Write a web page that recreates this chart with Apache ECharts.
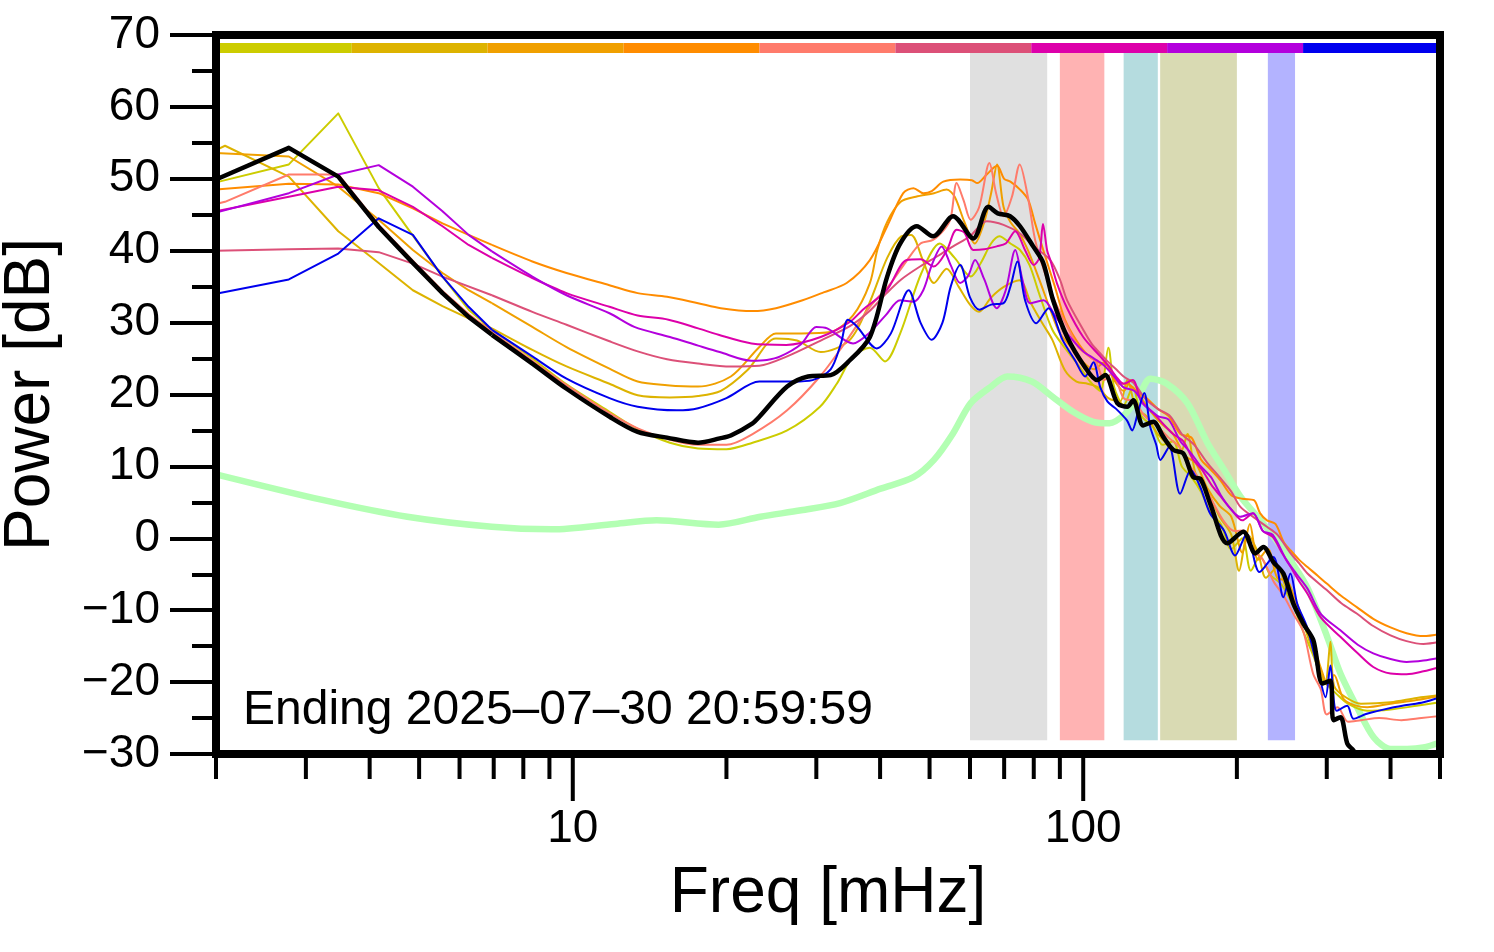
<!DOCTYPE html>
<html>
<head>
<meta charset="utf-8">
<script src="https://cdn.jsdelivr.net/npm/echarts@6/dist/echarts.min.js"></script>
<style>
html,body{margin:0;padding:0;background:#fff;}
#chart{width:1494px;height:952px;}
</style>
</head>
<body>
<div id="chart"></div>
<script>
// ---------------- DATA ----------------
const xMajorTicks = [10, 100];
const xMinorTicks = [2, 3, 4, 5, 6, 7, 8, 9, 20, 30, 40, 50, 60, 70, 80, 90, 200, 300, 400, 500];
const xLabels = [10, 100];
const stampText = 'Ending 2025\u201307\u201330 20:59:59';

// shaded frequency bands [mHz]
const bandStarts = [60, 90, 120, 141.5, 230];
const bandEnds   = [85, 110, 140, 200, 260];
const bandColors = ['#e0e0e0', '#ffb3b3', '#b5dcdf', '#d9dab3', '#b3b3ff'];
const bandLow = -28.1, bandHigh = 67.5;

// colour strip along the top
const stripEdges  = [2, 3.69, 6.81, 12.58, 23.22, 42.86, 79.1, 146, 269.6, 500];
const stripColors = ['#cccc00', '#ddb300', '#f0a000', '#ff8c00', '#ff7b6b', '#dc5078', '#dd00aa', '#b300dd', '#0000ee'];
const stripLow = 67.5, stripHigh = 68.9;

// below this frequency the spectra are drawn as straight segments (coarse bins)
const coarseLimit = 6.95;

// spectra: [freq mHz, power dB]
const s1 = [[2,49.5],[2.778,52.0],[3.472,59.1],[4.167,48.7],[4.861,42.1],[5.556,36.4],[6.25,31.8],[6.944,29.0],[8.333,25.0],[9.722,21.4],[11.8,17.6],[13.4,15.2],[15.5,13.3],[17.6,12.5],[20,12.4],[22.5,13.3],[26.3,15.0],[30.5,18.3],[32.9,21.5],[35.4,25.3],[38.2,26.5],[40.9,24.6],[43.8,28.5],[48.2,36.9],[52.4,41.0],[56,39.0],[60.2,36.4],[63,38.3],[66,41.0],[68.5,42.0],[72,41.0],[75.2,40.1],[78.5,38.0],[82,34.0],[87,29.0],[92,26.5],[98,24.0],[104,21.5],[108,20.5],[112,26.5],[115,21.0],[120,18.5],[125,21.0],[130,17.0],[137,15.5],[143,13.0],[150,13.5],[156,10.0],[163,8.5],[170,6.5],[178,3.5],[186,2.0],[195,-1.5],[205,0.0],[213,-4.5],[222,-2.5],[232,-5.0],[245,-6.5],[258,-9.5],[270,-13.0],[283,-16.5],[293,-19.5],[302,-20.5],[312,-21.5],[330,-23.0],[360,-24.0],[400,-23.8],[450,-23.3],[500,-22.8]];
const s2 = [[2,54.0],[2.083,54.6],[2.778,50.3],[3.472,42.7],[4.167,38.3],[4.861,34.5],[5.556,32.3],[6.25,30.6],[6.944,29.2],[8.333,26.2],[9.722,23.9],[11.8,21.5],[13.4,19.9],[15.5,19.6],[17.6,19.8],[19.5,20.5],[22,23.4],[25,27.8],[27.5,27.5],[30.6,25.9],[34.9,27.6],[38,32.5],[41.3,39.0],[44,42.0],[46,42.2],[48.5,38.7],[51,35.5],[54,37.5],[57,35.0],[60,32.5],[62.5,31.5],[66,33.5],[70,35.0],[75,35.9],[79,32.7],[83,30.0],[87,27.6],[92,23.4],[97,21.8],[102,21.5],[107,21.0],[112,19.5],[118,19.0],[122,22.0],[127,18.0],[133,17.0],[140,14.5],[147,13.0],[155,12.0],[160,14.5],[166,9.0],[175,6.5],[185,3.0],[195,0.5],[202,-4.5],[210,0.5],[220,-2.0],[228,-5.5],[240,-4.0],[250,-7.0],[262,-9.0],[275,-13.5],[288,-17.5],[298,-20.0],[305,-14.4],[310,-20.5],[325,-22.0],[350,-23.0],[400,-22.8],[450,-22.2],[500,-21.8]];
const s3 = [[2,53.6],[2.778,53.1],[3.472,48.9],[4.167,44.3],[4.861,40.1],[5.556,36.9],[6.25,34.5],[6.944,32.7],[8.333,29.4],[9.722,26.6],[11.8,23.6],[13.4,21.8],[15.3,21.3],[17.6,21.1],[20.4,22.5],[23.2,26.6],[25,28.5],[28,28.5],[32,28.7],[35.4,31.0],[38.2,35.5],[39.5,40.1],[41.3,44.0],[43.9,46.8],[47,47.5],[51,48.0],[54,48.5],[56,47.5],[58.5,44.0],[61.3,41.0],[64,44.0],[66,48.0],[67.8,52.0],[69.8,46.1],[72,44.0],[75,42.4],[78,40.0],[82,36.0],[86,32.0],[90,28.5],[95,26.5],[100,24.5],[105,23.5],[110,24.5],[115,22.0],[120,20.5],[124,22.0],[130,19.5],[136,17.5],[142,16.0],[150,14.5],[158,11.5],[166,10.5],[175,7.0],[185,4.5],[195,3.0],[205,-2.0],[212,2.0],[220,-3.0],[230,-1.5],[240,-5.5],[252,-6.0],[265,-10.5],[280,-14.0],[292,-18.0],[302,-20.5],[310,-19.0],[325,-22.5],[360,-23.5],[400,-23.0],[450,-22.5],[500,-21.9]];
const s4 = [[2,48.5],[2.778,49.3],[3.472,49.2],[4.167,48.0],[4.861,45.9],[5.556,43.8],[6.25,42.2],[6.944,40.8],[8.333,38.5],[9.722,36.9],[11.8,35.2],[13.4,34.1],[15.3,33.6],[17.6,32.7],[19.5,32.0],[22.5,31.6],[25,32.0],[28.2,33.1],[31,34.2],[34.4,35.5],[38.2,38.7],[41.3,43.4],[44.4,48.0],[46.5,48.7],[48.6,48.0],[50.5,48.3],[53.2,49.6],[57.4,49.9],[60.5,49.8],[62,49.4],[64.5,50.5],[67.8,51.8],[70,50.0],[72,49.6],[75.2,48.5],[78,47.1],[80.5,43.8],[84,39.5],[88,35.0],[92,30.5],[97,27.5],[102,25.5],[107,24.5],[112,24.0],[117,21.5],[122,21.5],[127,20.5],[133,19.5],[140,18.0],[147,17.0],[155,14.5],[163,14.0],[170,11.0],[178,9.5],[186,8.0],[195,6.0],[205,5.5],[216,5.3],[222,3.5],[229,2.5],[238,2.0],[247,-0.5],[255,-1.7],[265,-3.0],[275,-4.0],[288,-5.2],[300,-6.3],[320,-8.0],[344,-9.6],[370,-11.2],[400,-12.4],[430,-13.2],[464,-13.6],[500,-13.3]];
const s5 = [[2,46.5],[2.083,46.8],[2.778,50.6],[3.472,50.6],[4.167,43.6],[4.861,38.6],[5.556,34.4],[6.25,31.2],[6.944,28.7],[8.333,24.7],[9.722,21.3],[11.8,17.4],[13.4,15.3],[15.5,13.7],[17.6,13.0],[20,13.0],[22.5,14.5],[26.3,17.8],[30.5,22.5],[34,27.0],[38.2,32.2],[42,35.5],[45.2,38.7],[48,41.0],[50.8,41.5],[53.5,43.0],[55,44.5],[56.5,49.4],[58.3,47.0],[60.2,44.3],[62.5,46.0],[65.5,52.2],[67.5,48.0],[69.8,44.8],[72.5,47.5],[75.1,52.0],[77.9,47.5],[80.5,41.5],[84,37.0],[88,33.0],[93,29.5],[98,26.5],[102,25.5],[106,24.5],[110,22.0],[114,23.0],[120,19.5],[126,19.0],[132,17.0],[140,15.5],[147,14.0],[155,12.5],[162,10.0],[170,8.0],[178,5.5],[188,2.5],[198,1.0],[206,1.1],[214,-1.5],[225,-3.0],[236,-6.0],[247,-8.0],[258,-10.5],[270,-13.0],[282,-18.8],[292,-21.0],[300,-24.5],[315,-23.5],[330,-25.5],[350,-25.3],[380,-25.0],[420,-25.3],[460,-25.0],[500,-24.7]];
const s6 = [[2,40.0],[2.778,40.2],[3.472,40.3],[4.167,39.8],[4.861,38.2],[5.556,36.4],[6.944,33.8],[8.333,31.5],[9.722,29.7],[11.8,27.4],[13.4,26.0],[15.3,24.9],[17.6,24.3],[20.4,23.9],[23.2,24.0],[26.3,25.3],[30.6,27.5],[34.9,29.5],[38,31.5],[41.2,34.1],[44,36.0],[47.9,37.8],[52,39.3],[55.6,40.6],[60,42.0],[64.7,44.1],[69.8,43.6],[75.2,42.4],[80,40.6],[86.2,38.7],[90,36.0],[93,33.1],[100,29.0],[104,27.0],[108,25.7],[112,24.5],[116.4,23.4],[120,22.5],[126,21.5],[132,19.5],[140,18.0],[148,17.0],[156,14.5],[165,13.0],[175,10.5],[185,8.5],[195,6.5],[203,4.4],[215,3.0],[229,1.6],[240,0.5],[255,-2.1],[265,-3.5],[275,-4.9],[300,-7.2],[320,-9.0],[344,-10.5],[370,-12.2],[400,-13.5],[430,-14.3],[464,-14.7],[500,-14.4]];
const s7 = [[2,45.5],[2.778,47.5],[3.472,48.9],[4.167,48.4],[4.861,46.1],[5.556,43.4],[6.25,40.8],[6.944,39.0],[8.333,36.2],[9.722,34.1],[11.8,32.2],[13.4,31.0],[15.4,30.4],[17.6,29.2],[19.3,28.3],[22.4,27.1],[26.2,26.9],[30.6,28.0],[34.9,30.1],[37,31.8],[41.2,34.5],[45.1,38.7],[48,38.8],[50.9,37.8],[54,40.0],[56.5,42.9],[58.5,42.5],[60.9,40.1],[64,40.2],[67.7,40.6],[70.5,41.0],[73.6,42.7],[76.9,40.1],[80,38.0],[82,39.0],[83.4,43.7],[85,40.0],[86.2,38.7],[88.8,35.5],[93,32.0],[100,28.0],[108,25.3],[112,24.0],[116,22.5],[120,21.5],[125,22.0],[130,19.0],[137,17.5],[143,16.0],[150,14.5],[157,13.5],[164,11.0],[171,9.5],[178,7.5],[185,6.0],[195,4.0],[205,2.5],[215,3.5],[225,1.0],[235,0.2],[245,-2.0],[255,-4.0],[265,-6.0],[275,-7.7],[292,-11.0],[319,-13.7],[345,-16.0],[370,-17.9],[400,-18.8],[430,-18.9],[464,-18.5],[500,-17.9]];
const s8 = [[2,45.3],[2.778,48.0],[3.472,50.6],[4.167,51.9],[4.861,48.9],[5.556,45.5],[6.25,42.2],[6.944,39.9],[8.333,36.4],[9.722,33.8],[11.8,31.3],[13.2,29.4],[15.5,28.0],[17.6,26.8],[19.4,25.9],[22.4,24.7],[24,24.8],[25.5,25.3],[28,27.0],[30,29.4],[31.5,29.2],[35.4,27.1],[38,28.5],[41,31.0],[43.8,33.1],[46.5,32.9],[48.6,34.5],[50.5,38.0],[52.8,40.6],[55,38.0],[57.4,35.5],[59.5,36.5],[61.4,38.7],[64,36.0],[67.7,32.0],[70.5,34.5],[73.6,40.1],[76,36.0],[78.7,32.7],[83.6,33.1],[88,31.0],[93,28.5],[100,26.0],[105,25.0],[110,24.0],[115,22.5],[120,21.0],[126,20.5],[132,18.5],[140,17.0],[147,16.5],[155,13.5],[162,12.0],[170,10.0],[178,8.5],[186,6.0],[195,4.0],[203,3.0],[215,3.5],[225,1.0],[235,0.5],[250,-3.0],[262,-5.0],[275,-7.0],[292,-10.5],[319,-12.8],[345,-14.8],[370,-16.0],[400,-16.8],[430,-17.2],[464,-17.0],[500,-16.6]];
const s9 = [[2,34.0],[2.778,36.0],[3.472,39.6],[4.167,44.5],[4.861,42.2],[5.556,36.4],[6.25,32.2],[6.944,29.0],[8.333,25.3],[9.722,22.2],[11.8,19.5],[13.4,18.3],[16,17.8],[17.6,18.1],[20,19.5],[23.2,21.8],[27,21.8],[29.5,22.0],[32,23.5],[33.5,27.0],[34.6,30.4],[36,29.5],[39.4,26.4],[42,28.5],[45.5,34.5],[48,30.0],[50.5,27.6],[53,30.0],[55,35.0],[57.4,38.0],[60,33.5],[62.6,31.8],[66,32.5],[69.8,32.7],[72,35.0],[74.3,38.5],[77,33.0],[80.9,29.9],[85.5,32.0],[91.1,27.6],[96.3,24.8],[100.9,22.5],[104.7,24.5],[108,21.0],[111.6,19.0],[116,18.0],[121.8,16.4],[124.7,15.0],[128,17.5],[131.7,20.2],[135.3,15.5],[139,13.0],[141.6,10.9],[147.4,12.7],[154.8,6.2],[162.5,9.5],[169.6,7.1],[177.4,3.4],[188.7,1.1],[198.4,-2.4],[209,0.6],[221.5,-4.7],[235.8,-2.6],[246.7,-8.2],[254.6,-4.9],[262.6,-9.1],[274.6,-12.4],[287.4,-17.9],[298.4,-22.1],[305,-17.7],[313.7,-24.0],[329,-23.3],[338.6,-25.1],[359.5,-24.4],[400,-23.6],[430,-23.2],[464,-22.8],[500,-22.1]];
const sBlack = [[2,49.9],[2.778,54.3],[3.472,50.3],[4.167,43.3],[4.861,38.3],[5.556,34.1],[6.25,30.8],[6.944,28.3],[8.333,24.3],[9.722,20.8],[11.81,16.9],[13.4,14.8],[15.3,14.0],[17.6,13.3],[19.4,13.9],[20.4,14.3],[22.5,16.0],[23.2,16.9],[26.3,21.1],[28.9,22.5],[32,22.7],[34.6,24.5],[38.2,28.0],[41.3,36.4],[43.8,41.0],[47.2,43.4],[50.8,42.0],[55.6,44.8],[60.9,41.7],[65.2,46.1],[68,45.2],[71.9,44.8],[75.2,43.4],[79.8,40.6],[83.5,38.3],[87.3,33.1],[93,28.0],[100.6,23.9],[106.5,22.0],[110.4,22.7],[116.6,18.8],[122,18.3],[125.3,19.2],[131.1,15.7],[137.2,16.2],[143.5,14.1],[150.1,12.3],[157.1,11.8],[164.3,8.5],[169.6,8.3],[177.4,4.8],[191.6,-0.7],[205.9,0.9],[217.4,-2.1],[225.4,-1.2],[235.8,-3.3],[246.7,-4.9],[258.1,-9.1],[270.1,-11.9],[282.5,-14.2],[294.2,-20.2],[305,-19.8],[309.2,-25.3],[319.1,-24.9],[329.3,-28.6],[338.4,-29.5],[350,-31.5]];
const sGreen = [[2,8.9],[3.25,5.3],[4.74,3.0],[6.94,1.6],[9.1,1.25],[12.1,2.0],[14.6,2.5],[19.3,1.9],[23.3,3.0],[28,3.9],[33.4,4.9],[40.1,6.9],[46.5,8.5],[51,10.9],[55.5,14.5],[60.2,18.8],[66,21.1],[71,22.5],[79.3,21.8],[87,19.7],[95.5,17.6],[104.6,16.2],[112.6,16.0],[121.3,17.4],[128,19.5],[135.4,22.2],[145.8,21.5],[160,18.8],[175.3,13.2],[188.9,9.5],[203.3,5.8],[222.6,2.5],[247,-1.7],[274.6,-6.8],[300.6,-13.7],[319.1,-18.8],[344,-23.5],[371,-27.7],[400,-29.3],[431,-29.3],[464,-29.1],[500,-28.4]];

const thinSeries = [s1, s2, s3, s4, s5, s6, s7, s8, s9];
const thinColors = ['#cccc00', '#ddb300', '#f0a000', '#ff8c00', '#ff7b6b', '#dc5078', '#dd00aa', '#b300dd', '#0000ee'];

// ---------------- CHART ----------------
const FONT = '"Liberation Sans", Arial, sans-serif';
const chart = echarts.init(document.getElementById('chart'), null, {renderer: 'canvas'});

const areas = [];
bandStarts.forEach((s, i) => {
  areas.push([{xAxis: s, yAxis: bandLow, itemStyle: {color: bandColors[i], opacity: 1}}, {xAxis: bandEnds[i], yAxis: bandHigh}]);
});
stripColors.forEach((c, i) => {
  areas.push([{xAxis: stripEdges[i], yAxis: stripLow, itemStyle: {color: c, opacity: 1}}, {xAxis: stripEdges[i + 1], yAxis: stripHigh}]);
});

function tickSeries(values, len) {
  return {
    type: 'custom', silent: true, clip: false, z: 20,
    data: values.map(v => [v, -30]),
    renderItem: function (params, api) {
      const p = api.coord([api.value(0), api.value(1)]);
      const bottom = params.coordSys.y + params.coordSys.height;
      return {type: 'line', shape: {x1: p[0], y1: bottom, x2: p[0], y2: bottom + len}, style: {stroke: '#000', lineWidth: 4}};
    }
  };
}

// each spectrum: straight segments through the coarse low-frequency bins, smooth curve above
function spectrumSeries(d, color, width, z) {
  const low = d.filter(p => p[0] <= coarseLimit);
  const high = d.filter(p => p[0] >= low[low.length - 1][0]);
  const base = {type: 'line', showSymbol: false, symbol: 'none', silent: true, z: z};
  return [
    Object.assign({}, base, {data: low, smooth: false, lineStyle: {color: color, width: width, join: 'round'}}),
    Object.assign({}, base, {data: high, smooth: 0.3, lineStyle: {color: color, width: width, join: 'round'}})
  ];
}

const series = [];
series.push({
  name: 'green', type: 'line', data: sGreen, showSymbol: false, symbol: 'none', smooth: 0.3,
  lineStyle: {color: '#b3ffb3', width: 6.5}, z: 3, silent: true,
  markArea: {silent: true, data: areas, label: {show: false}}
});
thinSeries.forEach((d, i) => { spectrumSeries(d, thinColors[i], 2, 4).forEach(s => series.push(s)); });
spectrumSeries(sBlack, '#000', 4.5, 5).forEach(s => series.push(s));
series.push(tickSeries(xMinorTicks, 25));
series.push(tickSeries(xMajorTicks, 47));

chart.setOption({
  animation: false,
  backgroundColor: '#fff',
  textStyle: {fontFamily: FONT, color: '#000'},
  grid: {left: 216, right: 54, top: 35, bottom: 198, containLabel: false, outerBoundsMode: 'none',
         show: true, borderColor: '#000', borderWidth: 8, backgroundColor: 'transparent', z: 10},
  xAxis: {
    type: 'log', logBase: 10, min: 2, max: 500,
    axisLine: {show: false}, axisTick: {show: false}, splitLine: {show: false},
    minorTick: {show: false}, minorSplitLine: {show: false},
    axisLabel: {
      fontSize: 46, color: '#000', fontFamily: FONT, margin: 52, hideOverlap: false,
      formatter: function (v) { const r = Math.round(v); return xLabels.indexOf(r) >= 0 && Math.abs(v - r) < 1e-6 ? String(r) : ''; }
    },
    name: 'Freq [mHz]', nameLocation: 'middle', nameGap: 108,
    nameTextStyle: {fontSize: 64, color: '#000', fontFamily: FONT}
  },
  yAxis: {
    type: 'value', min: -30, max: 70, interval: 10,
    axisLine: {show: false},
    axisTick: {show: true, length: 46, lineStyle: {width: 4, color: '#000'}},
    minorTick: {show: true, splitNumber: 2, length: 24, lineStyle: {width: 4, color: '#000'}},
    splitLine: {show: false}, minorSplitLine: {show: false},
    axisLabel: {
      fontSize: 46, color: '#000', fontFamily: FONT, margin: 56,
      formatter: function (v) { return v < 0 ? '\u2212' + Math.abs(v) : String(v); }
    },
    name: 'Power [dB]', nameLocation: 'middle', nameGap: 153, nameRotate: 90,
    nameTextStyle: {fontSize: 64, color: '#000', fontFamily: FONT}
  },
  graphic: [{
    type: 'text', x: 243, y: 711, z: 30, silent: true,
    style: {text: stampText, font: '48px ' + FONT, fill: '#000', verticalAlign: 'middle', align: 'left'}
  }],
  series: series
});
</script>
</body>
</html>
